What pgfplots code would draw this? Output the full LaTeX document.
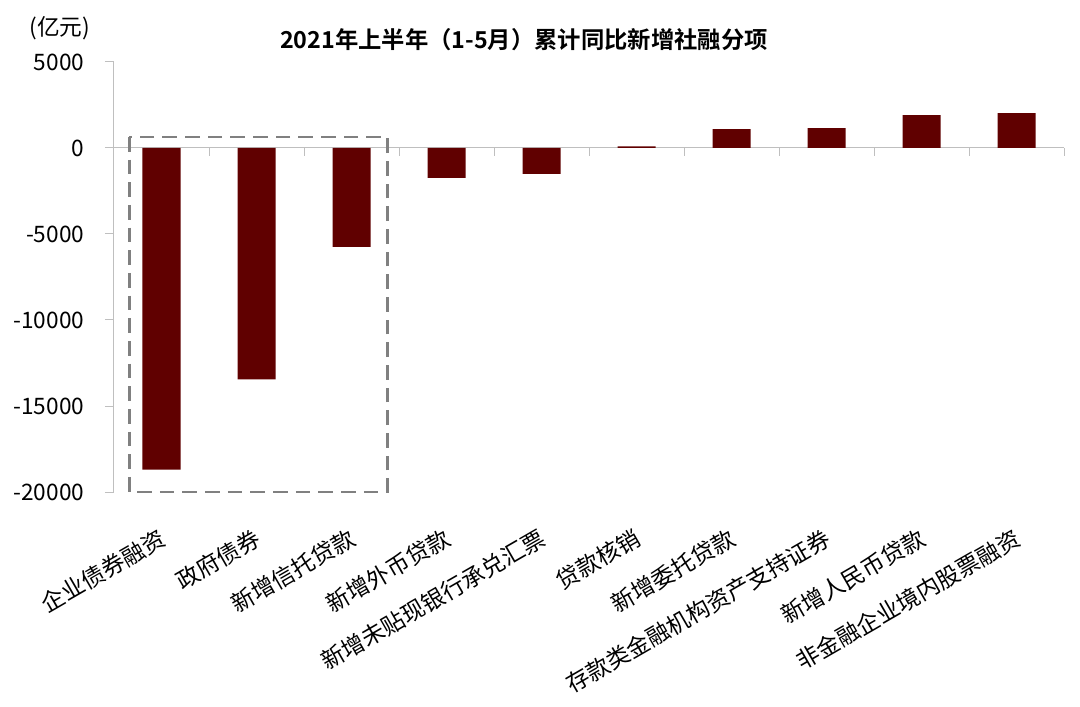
\documentclass[border=0pt]{standalone}
\usepackage{fontspec}
\setmainfont{Noto Sans CJK SC}[BoldFont={Noto Sans CJK SC Bold}]
\usepackage{pgfplots}
\pgfplotsset{compat=1.18}
\definecolor{barred}{RGB}{96,0,0}
\definecolor{axgray}{RGB}{191,191,191}
\definecolor{boxgray}{RGB}{128,128,128}
\tikzset{lab/.style={xshift=-3pt, yshift=-26pt, rotate=30, anchor=north east, inner sep=0pt, font=\fontsize{17.3}{20}\selectfont}}
\begin{document}
\begin{tikzpicture}
\useasboundingbox (-85.5pt,-160.5pt) rectangle (724.5pt,369pt);
\begin{axis}[
  at={(0,0)}, anchor=south west,
  scale only axis, width=712.5pt, height=322.5pt,
  xmin=-0.5, xmax=9.5, ymin=-20000, ymax=5000,
  clip=false,
  axis y line*=left, axis x line*=bottom,
  x axis line style={draw=none},
  y axis line style={draw=axgray, line width=0.75pt},
  ytick={-20000,-15000,-10000,-5000,0,5000},
  ytick style={draw=axgray, line width=0.75pt},
  tick align=outside, major tick length=6.75pt,
  scaled y ticks=false,
  xtick=\empty,
  yticklabel style={font=\fontsize{17}{20}\selectfont, xshift=-12pt},
  /pgf/number format/1000 sep={},
  /pgf/number format/assume math mode=true,
]
\draw[axgray, line width=0.75pt] (axis cs:-0.5,0) -- (axis cs:9.5,0);
\addplot[ybar, bar width=28.5pt, fill=barred, draw=none] coordinates {
  (0,-18700) (1,-13450) (2,-5750) (3,-1740) (4,-1500)
  (5,100) (6,1100) (7,1160) (8,1910) (9,2030)
};
\draw[axgray, line width=0.75pt] (axis cs:0.5,0) -- ++(0pt,-6pt);
\draw[axgray, line width=0.75pt] (axis cs:1.5,0) -- ++(0pt,-6pt);
\draw[axgray, line width=0.75pt] (axis cs:2.5,0) -- ++(0pt,-6pt);
\draw[axgray, line width=0.75pt] (axis cs:3.5,0) -- ++(0pt,-6pt);
\draw[axgray, line width=0.75pt] (axis cs:4.5,0) -- ++(0pt,-6pt);
\draw[axgray, line width=0.75pt] (axis cs:5.5,0) -- ++(0pt,-6pt);
\draw[axgray, line width=0.75pt] (axis cs:6.5,0) -- ++(0pt,-6pt);
\draw[axgray, line width=0.75pt] (axis cs:7.5,0) -- ++(0pt,-6pt);
\draw[axgray, line width=0.75pt] (axis cs:8.5,0) -- ++(0pt,-6pt);
\draw[axgray, line width=0.75pt] (axis cs:9.5,0) -- ++(0pt,-6pt);
\draw[boxgray, line width=2.2pt, dash pattern=on 11pt off 6pt]
  (axis cs:-0.337,640) rectangle (axis cs:2.379,-20000);
\node[lab] at (axis cs:0,-20000) {企业债券融资};
\node[lab] at (axis cs:1,-20000) {政府债券};
\node[lab] at (axis cs:2,-20000) {新增信托贷款};
\node[lab] at (axis cs:3,-20000) {新增外币贷款};
\node[lab] at (axis cs:4,-20000) {新增未贴现银行承兑汇票};
\node[lab] at (axis cs:5,-20000) {贷款核销};
\node[lab] at (axis cs:6,-20000) {新增委托贷款};
\node[lab] at (axis cs:7,-20000) {存款类金融机构资产支持证券};
\node[lab] at (axis cs:8,-20000) {新增人民币贷款};
\node[lab] at (axis cs:9,-20000) {非金融企业境内股票融资};
\end{axis}
\node[font=\fontsize{17}{20}\selectfont] at (-40.5pt,348pt) {(亿元)};
\node[font=\fontsize{17.5}{20}\selectfont\bfseries] at (307.5pt,339pt) {2021年上半年（1-5月）累计同比新增社融分项};
\end{tikzpicture}
\end{document}
